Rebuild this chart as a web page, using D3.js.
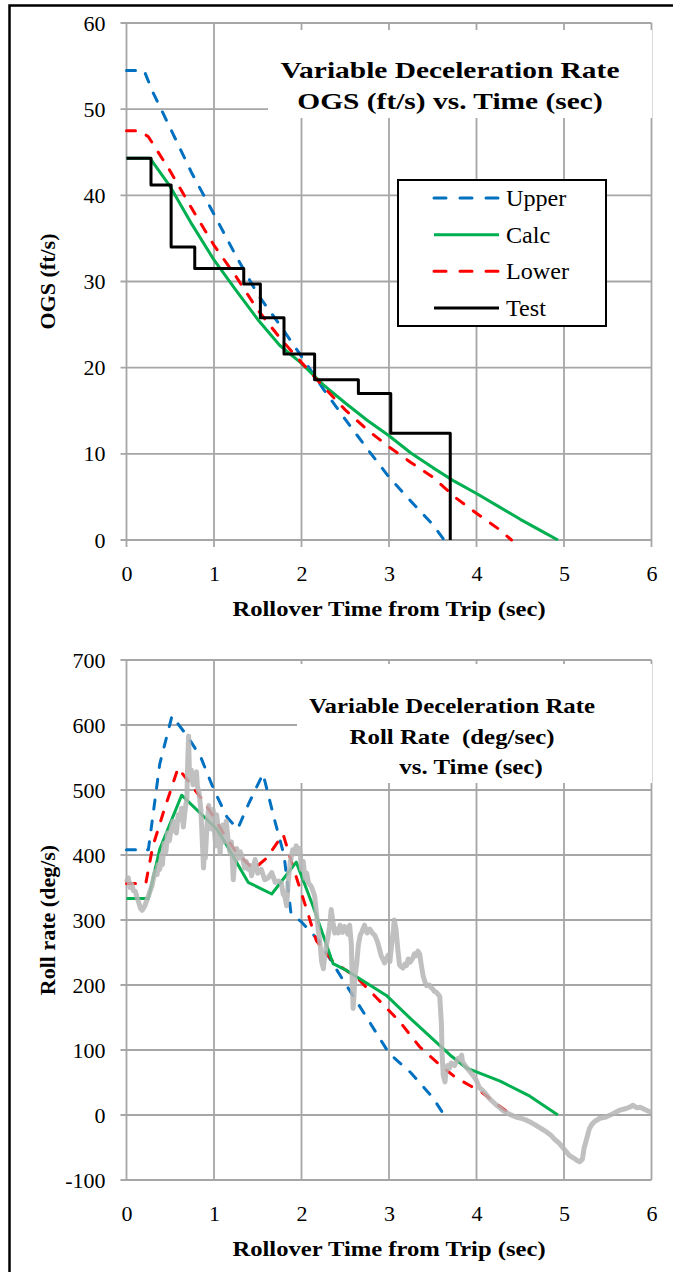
<!DOCTYPE html>
<html><head><meta charset="utf-8">
<script src="https://cdn.jsdelivr.net/npm/d3@7"></script>
<style>
body{margin:0;background:#fff;}
svg{display:block;}
svg text{font-family:"Liberation Serif","Tinos","Times New Roman","DejaVu Serif",serif !important;fill:#000;white-space:pre;}
</style>
</head><body>
<svg id="c" width="673" height="1272"></svg>
<script>
// ---------- data ----------
const xTicks = [0,1,2,3,4,5,6];
const ogsTicks = [0,10,20,30,40,50,60];
const rollTicks = [-100,0,100,200,300,400,500,600,700];
const seriesNames = ["Upper","Calc","Lower","Test"];
const ogsTitle = ["Variable Deceleration Rate","OGS (ft/s) vs. Time (sec)"];
const rollTitle = ["Variable Deceleration Rate","Roll Rate  (deg/sec)","vs. Time (sec)"];
const xTitle = "Rollover Time from Trip (sec)";
const ogsYTitle = "OGS (ft/s)";
const rollYTitle = "Roll rate (deg/s)";

// OGS (ft/s) vs time (s)
const ogsUpper = [[0,54.5],[0.2,54.5],[0.3,52],[0.5,47.8],[0.75,42.5],[1.0,37.8],[1.25,33],[1.5,28.5],[1.75,25],[2.0,21.3],[2.25,17.5],[2.5,14],[2.75,10.6],[3.0,7.3],[3.25,4.5],[3.5,1.8],[3.63,0]];
const ogsCalc = [[0,44.3],[0.27,44.3],[0.5,41],[0.75,36.6],[1.0,32.5],[1.25,29],[1.5,25.6],[1.75,22.6],[2.0,20.5],[2.25,18],[2.5,15.9],[2.75,13.9],[3.0,12.1],[3.25,10.1],[3.5,8.4],[3.75,6.8],[4.0,5.4],[4.25,3.9],[4.5,2.4],[4.75,1.0],[4.93,0]];
const ogsLower = [[0,47.5],[0.15,47.5],[0.25,46.8],[0.5,42.8],[0.75,38.4],[1.0,34.2],[1.25,30.6],[1.5,26.7],[1.75,23.5],[2.0,20.6],[2.25,17.8],[2.5,15.1],[2.75,12.8],[3.0,10.8],[3.25,9.0],[3.5,7.3],[3.75,5.0],[4.0,3.1],[4.25,1.3],[4.4,0]];
const ogsTest = [[0,44.3],[0.28,41.2],[0.51,34],[0.78,31.5],[1.34,29.7],[1.53,25.8],[1.8,21.6],[2.15,18.6],[2.65,17],[3.02,12.4],[3.7,0]];

// Roll rate (deg/s) vs time (s)
const rollUpper = [[0,408],[0.25,408],[0.38,540],[0.52,614],[0.7,582],[0.85,550],[1.0,500],[1.15,458],[1.27,440],[1.4,480],[1.56,525],[1.7,450],[1.8,400],[1.88,310],[2.0,297],[2.2,268],[2.45,213],[2.75,149],[3.0,95],[3.25,65],[3.5,27],[3.63,0]];
const rollCalc = [[0,333],[0.25,333],[0.38,409],[0.63,492],[1.03,440],[1.15,414],[1.39,358],[1.66,340],[1.94,389],[2.13,322],[2.36,233],[2.52,222],[2.97,184],[3.24,149],[3.7,92],[3.89,72],[4.27,52],[4.61,29],[4.93,0]];
const rollLower = [[0,356],[0.22,356],[0.3,413],[0.42,465],[0.59,534],[0.72,511],[0.85,488],[1.0,458],[1.1,435],[1.25,405],[1.45,378],[1.6,395],[1.79,432],[1.9,383],[2.05,320],[2.17,268],[2.36,236],[2.63,212],[2.86,180],[3.12,144],[3.35,105],[3.58,77],[3.77,57],[4.06,35],[4.25,15],[4.4,0]];
const rollTest = [[0,358],[0.02,365],[0.04,350],[0.06,355],[0.08,345],[0.1,344],[0.12,335],[0.14,327],[0.16,318],[0.18,315],[0.21,322],[0.25,337],[0.29,352],[0.31,365],[0.33,375],[0.35,370],[0.36,385],[0.38,378],[0.4,400],[0.41,385],[0.43,418],[0.45,405],[0.47,434],[0.49,422],[0.51,440],[0.53,452],[0.55,438],[0.57,434],[0.59,462],[0.61,455],[0.63,472],[0.65,443],[0.67,470],[0.69,487],[0.7,545],[0.71,583],[0.72,516],[0.74,531],[0.76,508],[0.78,520],[0.8,528],[0.81,505],[0.83,495],[0.85,470],[0.86,440],[0.88,380],[0.89,405],[0.9,395],[0.92,446],[0.94,476],[0.96,462],[0.97,440],[0.99,470],[1.01,430],[1.02,414],[1.03,462],[1.05,440],[1.07,402],[1.08,434],[1.1,446],[1.12,420],[1.14,452],[1.16,424],[1.18,405],[1.2,420],[1.22,362],[1.24,398],[1.26,410],[1.28,395],[1.3,405],[1.33,393],[1.35,380],[1.37,390],[1.39,378],[1.41,384],[1.43,368],[1.45,382],[1.47,393],[1.5,372],[1.54,378],[1.58,362],[1.62,365],[1.66,373],[1.7,358],[1.74,360],[1.77,357],[1.79,340],[1.81,336],[1.83,322],[1.85,362],[1.87,388],[1.9,408],[1.92,402],[1.94,414],[1.96,404],[1.98,410],[2.0,378],[2.02,390],[2.04,364],[2.06,372],[2.08,357],[2.11,352],[2.13,345],[2.15,337],[2.17,312],[2.19,286],[2.21,266],[2.23,236],[2.25,225],[2.27,250],[2.3,272],[2.32,290],[2.34,316],[2.36,296],[2.38,280],[2.4,286],[2.42,280],[2.44,292],[2.47,281],[2.49,290],[2.51,286],[2.53,278],[2.55,292],[2.57,262],[2.58,205],[2.59,164],[2.6,185],[2.61,212],[2.63,232],[2.65,262],[2.67,276],[2.69,282],[2.72,292],[2.75,280],[2.78,286],[2.81,280],[2.84,276],[2.87,266],[2.89,256],[2.91,245],[2.93,240],[2.95,234],[2.97,240],[2.99,246],[3.01,236],[3.03,262],[3.05,285],[3.06,300],[3.08,286],[3.1,256],[3.12,231],[3.14,228],[3.16,226],[3.18,232],[3.2,230],[3.22,240],[3.24,235],[3.27,241],[3.29,248],[3.31,245],[3.33,252],[3.35,248],[3.37,230],[3.39,214],[3.41,205],[3.43,199],[3.46,200],[3.48,196],[3.5,194],[3.52,190],[3.54,189],[3.56,186],[3.58,182],[3.6,138],[3.605,97],[3.62,61],[3.64,51],[3.65,66],[3.67,76],[3.69,72],[3.71,80],[3.73,78],[3.75,76],[3.77,82],[3.79,87],[3.81,85],[3.83,92],[3.84,82],[3.87,76],[3.9,71],[3.93,66],[3.96,61],[4.0,53],[4.02,46],[4.04,41],[4.07,38],[4.09,35],[4.12,30],[4.15,25],[4.19,20],[4.23,15],[4.26,12],[4.3,7],[4.34,4],[4.38,1],[4.45,-3],[4.51,-5],[4.57,-8],[4.63,-12],[4.68,-16],[4.74,-21],[4.8,-26],[4.85,-31],[4.89,-37],[4.95,-44],[5.01,-54],[5.06,-62],[5.12,-67],[5.15,-70],[5.18,-72],[5.21,-68],[5.23,-51],[5.26,-36],[5.29,-21],[5.32,-14],[5.35,-10],[5.41,-5],[5.48,-3],[5.56,2],[5.63,7],[5.71,10],[5.75,12],[5.79,15],[5.82,12],[5.84,11],[5.87,12],[5.9,10],[5.93,8],[5.96,6],[6.0,5]];

// ---------- styles ----------
const FONT = "'Liberation Serif','Tinos','Times New Roman','DejaVu Serif',serif";
const COL = {Upper:"#0070C0", Calc:"#00B050", Lower:"#FF0000", Test:"#000000"};
const GRID = "#a6a6a6";
const svg = d3.select("#c");

// frame
svg.append("rect").attr("x",9.5).attr("y",5.5).attr("width",720).attr("height",1320)
  .attr("fill","none").attr("stroke","#000").attr("stroke-width",2.5);

function panel(o){
  const x = d3.scaleLinear().domain([0,6]).range([126.5,651.5]);
  const y = d3.scaleLinear().domain(o.ydom).range(o.yrange);
  const g = svg.append("g");
  g.selectAll(".hg").data(o.yticks).enter().append("line")
    .attr("x1",x(0)-6).attr("x2",x(6)).attr("y1",d=>y(d)).attr("y2",d=>y(d))
    .attr("stroke",GRID).attr("stroke-width",1.8);
  g.selectAll(".vg").data(xTicks).enter().append("line")
    .attr("x1",d=>x(d)).attr("x2",d=>x(d)).attr("y1",o.yrange[1]).attr("y2",o.yrange[0]+o.xtickExt)
    .attr("stroke",GRID).attr("stroke-width",1.8);
  const ya = g.append("g").attr("transform",`translate(${x(0)},0)`)
    .call(d3.axisLeft(y).tickValues(o.yticks).tickSize(0).tickPadding(21).tickFormat(d=>String(d)));
  ya.select(".domain").remove();
  ya.attr("font-family",FONT);
  ya.selectAll("text").attr("font-size",22).attr("font-family",FONT);
  const xa = g.append("g").attr("transform",`translate(0,${o.yrange[0]})`)
    .call(d3.axisBottom(x).tickValues(xTicks).tickSize(0).tickPadding(o.xpad).tickFormat(d=>String(d)));
  xa.select(".domain").remove();
  xa.attr("font-family",FONT);
  xa.selectAll("text").attr("font-size",22).attr("font-family",FONT);
  g.append("rect").attr("x",o.tbox[0]).attr("y",o.tbox[1]).attr("width",o.tbox[2]).attr("height",o.tbox[3]).attr("fill","#fff");
  o.title.forEach((t,i)=>{
    g.append("text").attr("transform",`translate(${o.tx[i]},${o.ty[i]}) scale(${o.tscale},1)`)
      .attr("text-anchor","middle").attr("font-weight","bold").attr("font-size",o.tsize)
      .attr("font-family",FONT).text(t);
  });
  g.append("text").attr("transform",`translate(389,${o.xtY}) scale(1.12,1)`).attr("text-anchor","middle")
    .attr("font-weight","bold").attr("font-size",22).attr("font-family",FONT).text(xTitle);
  g.append("text").attr("transform",`translate(55,${(o.yrange[0]+o.yrange[1])/2}) rotate(-90)`).attr("text-anchor","middle")
    .attr("font-weight","bold").attr("font-size",22).attr("font-family",FONT).text(o.ytitle);
  const line = d3.line().x(d=>x(d[0])).y(d=>y(d[1]));
  return {g,x,y,line};
}

function draw(P,data,name,opts){
  opts = opts||{};
  const gen = P.line.curve(opts.step?d3.curveStepAfter:d3.curveLinear);
  P.g.append("path").attr("d",gen(data))
    .attr("fill","none").attr("stroke",opts.color||COL[name]).attr("stroke-width",opts.w||3)
    .attr("stroke-dasharray",opts.dash?"9,12":null).attr("stroke-linecap",opts.dash?"round":"butt")
    .attr("stroke-linejoin","round").attr("opacity",opts.op||1);
}

// ---------- top panel ----------
const P1 = panel({ydom:[0,60], yrange:[540,23], yticks:ogsTicks, xtickExt:7, xpad:25,
  tbox:[268,30,384,88], title:ogsTitle, tx:[450,450], ty:[78,109], tsize:23, tscale:1.28, xtY:616, ytitle:ogsYTitle});
draw(P1,ogsUpper,"Upper",{dash:true});
draw(P1,ogsCalc,"Calc");
draw(P1,ogsLower,"Lower",{dash:true});
draw(P1,ogsTest,"Test",{step:true});

// legend
const lg = svg.append("g");
lg.append("rect").attr("x",398).attr("y",180).attr("width",208).attr("height",146)
  .attr("fill","#fff").attr("stroke","#000").attr("stroke-width",2);
const legY = d3.scalePoint().domain(seriesNames).range([198,308]);
seriesNames.forEach(n=>{
  const dashed = (n==="Upper"||n==="Lower");
  lg.append("line").attr("x1",434).attr("x2",499).attr("y1",legY(n)).attr("y2",legY(n))
    .attr("stroke",COL[n]).attr("stroke-width",3)
    .attr("stroke-dasharray",dashed?"12,14":null).attr("stroke-linecap",dashed?"round":"butt");
  lg.append("text").attr("transform",`translate(506,${legY(n)+8}) scale(1.05,1)`).attr("font-size",23)
    .attr("font-family",FONT).text(n);
});

// ---------- bottom panel ----------
const P2 = panel({ydom:[-100,700], yrange:[1180,660], yticks:rollTicks, xtickExt:0, xpad:25,
  tbox:[297,664,355,119], title:rollTitle, tx:[452,452,471], ty:[713,744,774], tsize:22, tscale:1.13, xtY:1256, ytitle:rollYTitle});
draw(P2,rollUpper,"Upper",{dash:true});
draw(P2,rollLower,"Lower",{dash:true});
draw(P2,rollCalc,"Calc");
draw(P2,rollTest,"Test",{color:"#b5b5b5",w:5,op:0.85});
</script>
</body></html>
